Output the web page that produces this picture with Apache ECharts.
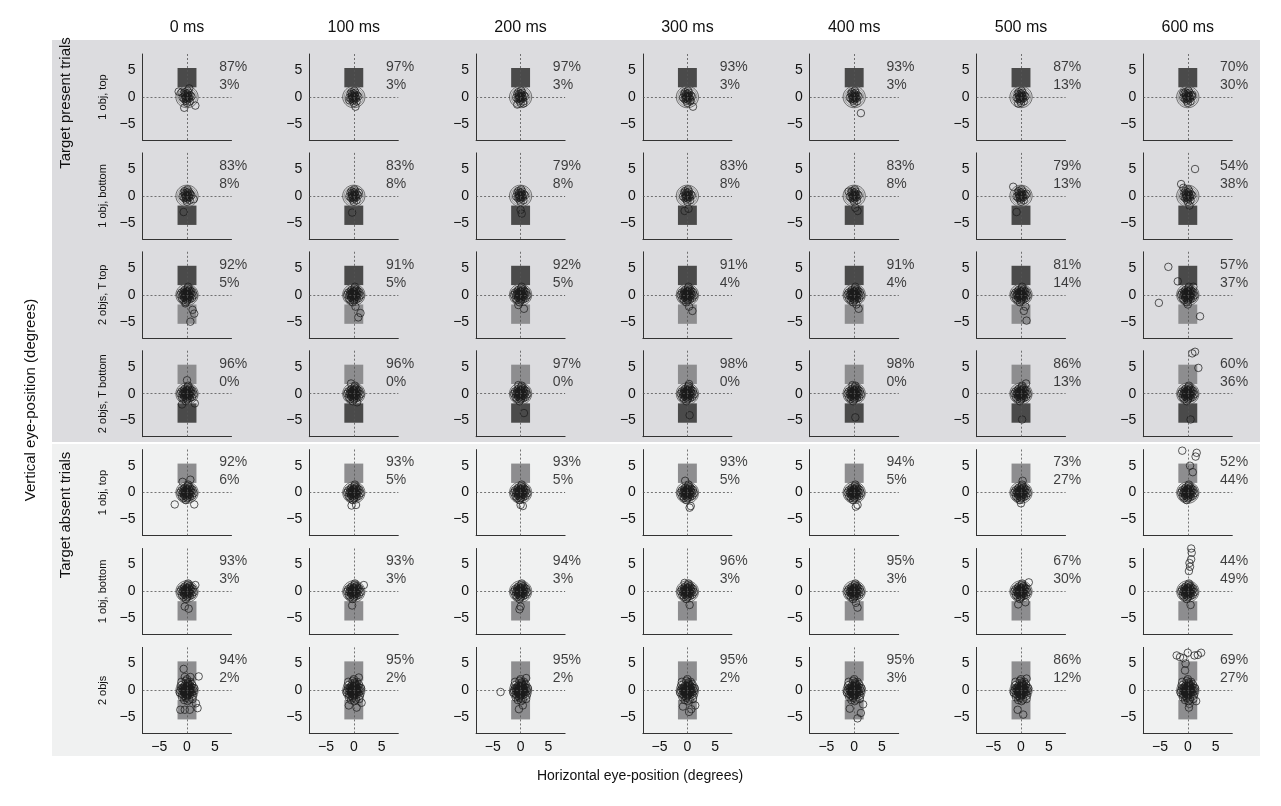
<!DOCTYPE html>
<html>
<head>
<meta charset="utf-8">
<title>Eye position</title>
<script src="https://cdn.jsdelivr.net/npm/echarts@6/dist/echarts.min.js"></script>
<style>
  body { margin: 0; background: #fff; }
  #chart { width: 1281px; height: 806px; }
</style>
</head>
<body>
<div id="chart"></div>
<script>
// column / row labels
const delays = ['0 ms', '100 ms', '200 ms', '300 ms', '400 ms', '500 ms', '600 ms'];
const conditions = ['1 obj, top', '1 obj, bottom', '2 objs, T top', '2 objs, T bottom', '1 obj, top', '1 obj, bottom', '2 objs'];
const xTicks = [-5, 0, 5];
const yTicks = [-5, 0, 5];

// percentages per row (fixation %, object %)
const pctFix = [
  [87, 97, 97, 93, 93, 87, 70],
  [83, 83, 79, 83, 83, 79, 54],
  [92, 91, 92, 91, 91, 81, 57],
  [96, 96, 97, 98, 98, 86, 60],
  [92, 93, 93, 93, 94, 73, 52],
  [93, 93, 94, 96, 95, 67, 44],
  [94, 95, 95, 95, 95, 86, 69]
];
const pctObj = [
  [3, 3, 3, 3, 3, 13, 30],
  [8, 8, 8, 8, 8, 13, 38],
  [5, 5, 5, 4, 4, 14, 37],
  [0, 0, 0, 0, 0, 13, 36],
  [6, 5, 5, 5, 5, 27, 44],
  [3, 3, 3, 3, 3, 30, 49],
  [2, 2, 2, 2, 3, 12, 27]
];

// objects shown per row: [top, bottom] ; 'T' target, 'D' distractor, null none
const objects = [
  ['T', null], [null, 'T'], ['T', 'D'], ['D', 'T'],
  ['D', null], [null, 'D'], ['D', 'D']
];

// central fixation clusters (deg)
const clusterS = [[0,0],[-0.3,0.2],[0.4,-0.3],[0.1,0.5],[-0.5,-0.4],[0.6,0.3],[-0.2,-0.7],[0.3,0.8],
  [-0.6,0.6],[0.2,-0.2],[-0.1,0.1],[0.5,-0.8],[-0.4,0.9],[0.8,0.1],[-0.8,-0.1],[0.0,-1.1],[0.1,1.2],[-0.3,-0.2],
  [0.15,0.25],[-0.15,-0.3],[0.35,0.1],[-0.35,0.45],[0.05,-0.5],[-0.05,0.7]];
const clusterM = clusterS.concat([[1.0,0.5],[-1.0,0.4],[0.9,-0.6],[-0.9,-0.7],[0.2,1.5],[-0.2,-1.4],[0.5,1.0],
  [-0.6,-1.0],[0.3,-0.5],[-0.4,0.3],[0.7,0.7],[-0.7,0.2],[0.0,0.6],[0.1,-0.9],[1.2,-0.1],[-1.2,0.0],
  [0.25,-0.05],[-0.25,0.05],[0.45,0.55],[-0.45,-0.6],[0.6,-0.4],[-0.6,0.0]]);
const clusterL = clusterM.concat([[-0.2,1.8],[0.4,-1.7],[-1.1,1.0],[1.1,-1.0],[0.6,1.6],[-0.5,-1.8],[0.9,1.2],
  [-0.9,-1.3],[0.2,0.3],[-0.2,-0.4],[0.6,-0.1],[-0.6,-0.2],[0.3,1.1],[-0.3,-1.1],[1.3,0.4],[-1.3,-0.4],
  [0.0,2.1],[0.1,-2.0],[-1.0,1.6],[1.0,-1.6],[0.8,-0.3],[-0.8,0.4],[0.1,0.9],[-0.1,-0.8],[0.4,0.4],[-0.4,-0.1]]);
const clusterRow = [clusterS, clusterS, clusterM, clusterM, clusterM, clusterM, clusterL];

// scattered fixations outside the central cluster
const outliers = [
  [[[-1.5,1.0],[1.5,-1.6],[-0.5,-2.0],[0.4,1.6],[-1.0,0.8]], [[0.3,-1.8],[-0.8,-0.6]], [[-0.6,-1.4],[0.5,-1.2]], [[1.0,-1.8],[0.6,-0.6]], [[1.2,-3.0]], [[-0.5,-1.2]], [[0.8,0.4],[-0.8,0.8]]],
  [[[0.5,0.5],[-0.6,-3.0],[1.2,-0.6]], [[-0.3,-3.1],[0.9,0.6]], [[0.0,-2.6],[0.2,-3.3]], [[0.2,-2.4],[-0.5,-2.8]], [[-1.0,0.8],[0.6,-2.8],[0.2,-2.2]], [[-1.4,1.7],[-0.8,-3.0],[1.0,0.4]], [[-1.2,2.2],[1.3,5.0],[-0.8,1.5],[0.3,-1.8]]],
  [[[1.0,-2.8],[1.3,-3.5],[0.6,-5.0],[-0.3,-1.6]], [[1.2,-3.4],[0.8,-4.2],[0.3,-2.2]], [[0.6,-2.6],[-0.4,-1.9]], [[0.9,-3.0],[0.3,-2.2]], [[0.8,-2.6],[0.4,-1.8]], [[0.8,-2.2],[0.5,-3.0],[1.0,-4.8]], [[-3.5,5.2],[-1.8,2.5],[-5.2,-1.5],[2.2,-4.0],[1.0,1.5],[0.0,-1.8]]],
  [[[0.0,2.5],[1.4,-1.8],[-0.9,-2.0]], [[-0.5,1.9],[0.6,-1.6]], [[0.6,-3.6],[-0.4,1.6]], [[0.4,-4.0],[0.3,1.8]], [[0.2,-4.4],[-0.3,1.6]], [[0.2,-4.8],[0.9,1.9]], [[0.8,7.5],[1.3,7.8],[1.9,4.8],[0.5,-4.8]]],
  [[[-2.2,-2.2],[1.3,-2.2],[0.6,2.4],[-0.8,2.0]], [[-0.4,-2.4],[0.4,-2.3]], [[0.0,-2.3],[0.4,-2.5]], [[0.6,-2.5],[0.4,-2.8],[-0.4,2.2]], [[0.3,-2.6],[0.6,-2.3]], [[0.0,-2.0],[0.3,2.2]], [[-1.0,7.8],[1.6,7.4],[1.4,6.7],[0.4,5.0],[0.9,3.8]]],
  [[[-0.4,-2.8],[0.3,-3.2],[1.5,1.2]], [[1.8,1.2],[-0.3,-2.6]], [[0.0,-2.8],[-0.2,-3.3]], [[0.4,-2.5],[-0.5,1.6]], [[0.3,-2.1],[0.6,-3.0]], [[1.4,1.7],[-0.5,-2.4],[0.8,-2.0]], [[0.6,8.0],[0.7,7.2],[0.6,6.0],[0.3,5.3],[0.4,4.6],[0.2,3.8],[0.5,-2.5]]],
  [[[-0.6,4.0],[2.1,2.6],[1.6,-2.4],[1.9,-3.3],[-1.2,-3.6],[-0.4,-3.6],[0.5,-3.6],[-0.4,2.5],[0.6,2.5]], [[1.4,-2.3],[-0.9,-2.8],[0.5,-3.2],[0.9,2.4]], [[-3.6,-0.3],[0.4,-2.8],[-0.3,-3.5],[1.0,2.3]], [[0.7,-3.5],[-0.8,-3.0],[1.4,-2.8],[0.3,-4.0]], [[1.2,-4.2],[0.6,-5.2],[-0.8,-3.4],[1.6,-2.6]], [[0.4,-4.5],[-0.6,-3.6],[1.0,2.2]], [[-2.0,6.5],[-1.4,6.2],[-0.8,6.0],[0.0,7.0],[1.2,6.5],[1.8,6.6],[2.4,7.0],[-0.4,5.0],[-0.5,3.7],[0.3,-2.5],[1.5,-2.0],[0.2,-3.2]]]
];

const chart = echarts.init(document.getElementById('chart'));
const grids = [], xAxes = [], yAxes = [], series = [];
const colW = 166.8, rowH = 98.9;
const objColor = { T: '#4a4a4a', D: '#8d8d8f' };
const minus = v => v < 0 ? '\u2212' + (-v) : String(v);

for (let r = 0; r < 7; r++) {
  for (let c = 0; c < 7; c++) {
    const i = r * 7 + c;
    const zx = 187 + c * colW, zy = 97 + r * rowH;
    grids.push({ left: zx - 44.5, top: zy - 43, width: 89, height: 86 });
    xAxes.push({
      gridIndex: i, type: 'value', min: -8, max: 8,
      axisLine: { show: true, onZero: false, lineStyle: { color: '#333', width: 1 } },
      axisTick: { show: false },
      axisLabel: { show: r === 6, customValues: xTicks, color: '#111', fontSize: 14, margin: 7, formatter: minus },
      splitLine: { show: false }
    });
    yAxes.push({
      gridIndex: i, type: 'value', min: -8, max: 8,
      axisLine: { show: true, onZero: false, lineStyle: { color: '#333', width: 1 } },
      axisTick: { show: false },
      axisLabel: { show: true, customValues: yTicks, color: '#111', fontSize: 14, margin: 7, formatter: minus },
      splitLine: { show: false }
    });
    const objs = objects[r];
    // objects and fixation circle
    series.push({
      type: 'custom', xAxisIndex: i, yAxisIndex: i, silent: true, z: 1,
      data: [[0, 0]],
      renderItem: function (params, api) {
        const children = [];
        const rect = (y0, y1, col) => {
          const p0 = api.coord([-1.7, y1]), p1 = api.coord([1.7, y0]);
          children.push({ type: 'rect', shape: { x: p0[0], y: p0[1], width: p1[0] - p0[0], height: p1[1] - p0[1] },
            style: { fill: col } });
        };
        if (objs[0]) rect(1.8, 5.4, objColor[objs[0]]);
        if (objs[1]) rect(-5.4, -1.8, objColor[objs[1]]);
        const ctr = api.coord([0, 0]);
        const rad = api.size([2, 2]);
        children.push({ type: 'ellipse', shape: { cx: ctr[0], cy: ctr[1], rx: rad[0], ry: rad[1] },
          style: { fill: 'rgba(200,200,200,0.35)', stroke: '#555', lineWidth: 0.8 } });
        children.push({ type: 'ellipse', shape: { cx: ctr[0], cy: ctr[1], rx: rad[0] * 0.85, ry: rad[1] * 0.85 },
          style: { fill: 'none', stroke: '#777', lineWidth: 0.6 } });
        return { type: 'group', children: children };
      }
    });
    // fixations
    series.push({
      type: 'scatter', xAxisIndex: i, yAxisIndex: i, silent: true, z: 3,
      symbol: 'circle', symbolSize: 7.5,
      itemStyle: { color: 'rgba(0,0,0,0)', borderColor: '#1a1a1a', borderWidth: 0.9 },
      data: clusterRow[r].concat(outliers[r][c]),
      markLine: {
        silent: true, symbol: 'none', label: { show: false },
        lineStyle: { color: '#555', type: [2, 2], width: 0.8 },
        data: [{ xAxis: 0 }, { yAxis: 0 }]
      }
    });
    // percentages
    series.push({
      type: 'scatter', xAxisIndex: i, yAxisIndex: i, silent: true, z: 4,
      symbolSize: 0, data: [[5.8, 3.9]],
      label: { show: true, position: 'right', distance: 0, color: '#111', fontSize: 14, lineHeight: 18,
        formatter: () => pctFix[r][c] + '%\n' + pctObj[r][c] + '%' }
    });
  }
}

const graphic = [
  { type: 'rect', z: -10, shape: { x: 52, y: 40, width: 1208, height: 402 }, style: { fill: '#dcdcdf' } },
  { type: 'rect', z: -10, shape: { x: 52, y: 444, width: 1208, height: 312 }, style: { fill: '#f0f1f1' } },
  { type: 'text', x: 640, y: 776, style: { text: 'Horizontal eye-position (degrees)', fontSize: 14, fill: '#111', align: 'center', verticalAlign: 'middle' } },
  { type: 'text', x: 31, y: 400, rotation: Math.PI / 2, style: { text: 'Vertical eye-position (degrees)', fontSize: 15, fill: '#111', align: 'center', verticalAlign: 'middle' } },
  { type: 'text', x: 66, y: 103, rotation: Math.PI / 2, style: { text: 'Target present trials', fontSize: 15, fill: '#111', align: 'center', verticalAlign: 'middle' } },
  { type: 'text', x: 66, y: 515, rotation: Math.PI / 2, style: { text: 'Target absent trials', fontSize: 15, fill: '#111', align: 'center', verticalAlign: 'middle' } }
];
delays.forEach((d, c) => graphic.push({ type: 'text', x: 187 + c * colW, y: 28,
  style: { text: d, fontSize: 16, fill: '#111', align: 'center', verticalAlign: 'middle' } }));
conditions.forEach((t, r) => graphic.push({ type: 'text', x: 103, y: 97 + r * rowH, rotation: Math.PI / 2,
  style: { text: t, fontSize: 11, fill: '#111', align: 'center', verticalAlign: 'middle' } }));

chart.setOption({
  animation: false,
  grid: grids, xAxis: xAxes, yAxis: yAxes, series: series, graphic: graphic
});
</script>
</body>
</html>
